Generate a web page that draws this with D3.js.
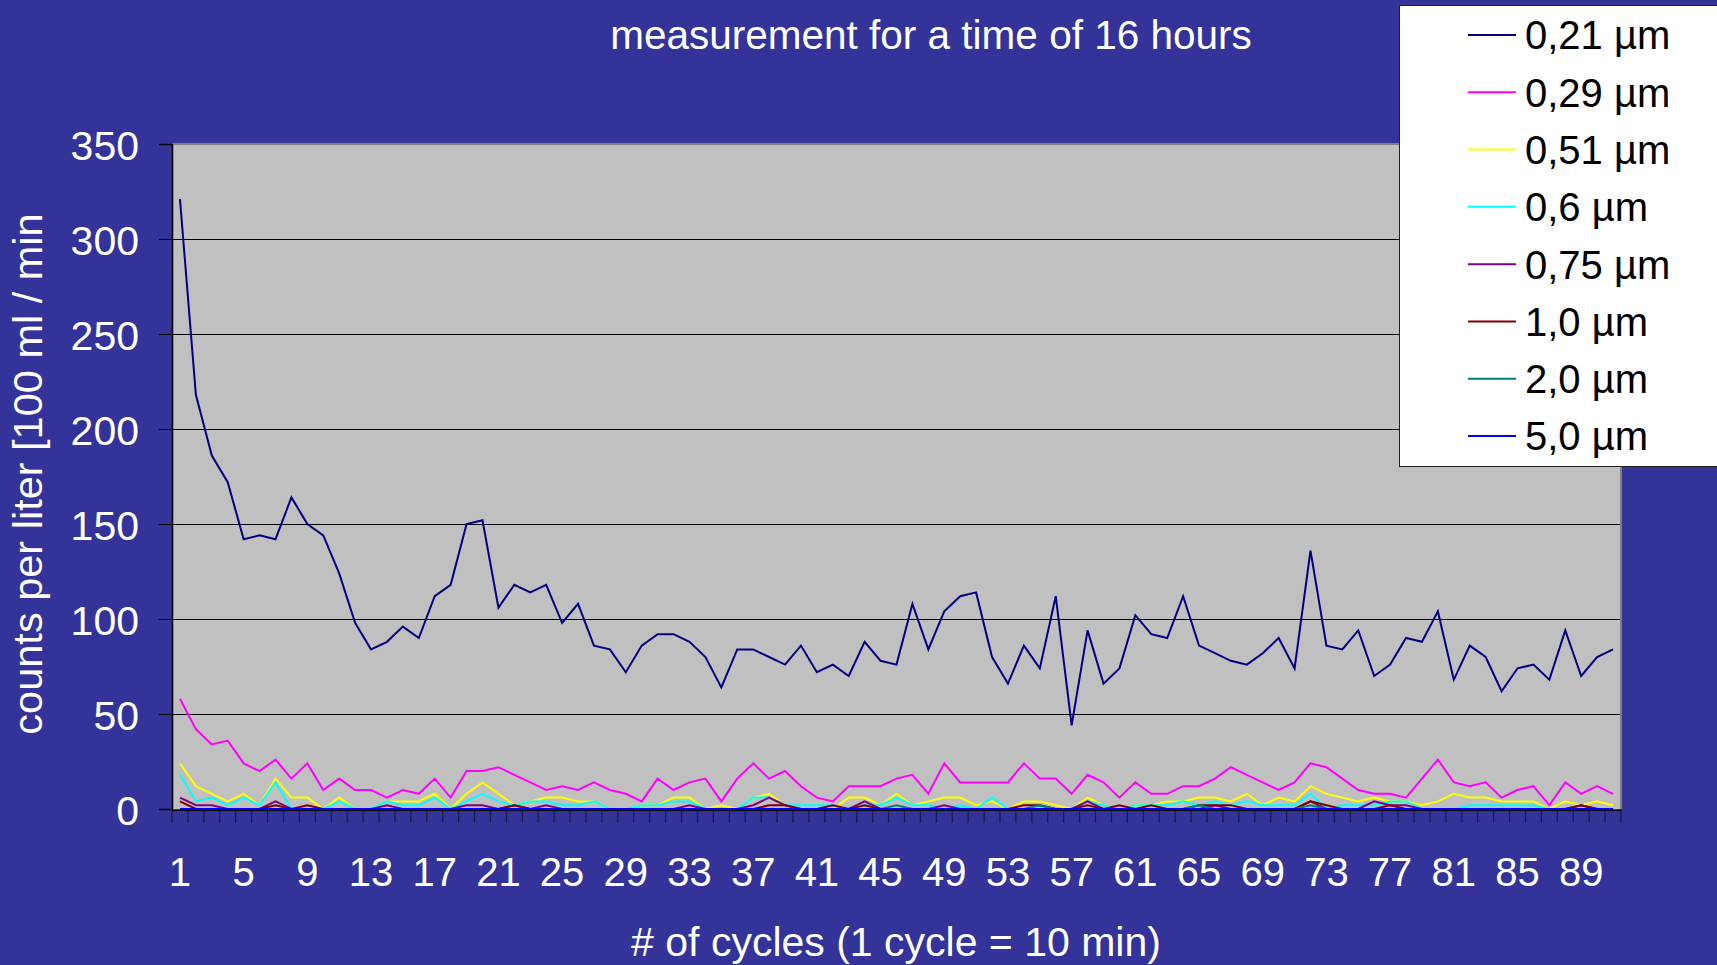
<!DOCTYPE html>
<html>
<head>
<meta charset="utf-8">
<script src="https://cdn.jsdelivr.net/npm/d3@7"></script>
<style>
  html, body { margin: 0; padding: 0; background: #333399; overflow: hidden; }
  text { font-family: "Liberation Sans", Arial, sans-serif; }
</style>
</head>
<body>
<script>
// particle sizes (legend order = drawing order)
const sizes = ["0,21 µm", "0,29 µm", "0,51 µm", "0,6 µm", "0,75 µm", "1,0 µm", "2,0 µm", "5,0 µm"];

// cycle numbers 1..91
const cycles = d3.range(1, 92);

// x labels shown (every 4th cycle)
const xTickLabels = [1, 5, 9, 13, 17, 21, 25, 29, 33, 37, 41, 45, 49, 53, 57, 61, 65, 69, 73, 77, 81, 85, 89];
const yTicks = [0, 50, 100, 150, 200, 250, 300, 350];

const s021 = [321, 218, 186, 172, 142, 144, 142, 164, 150, 144,
  124, 98, 84, 88, 96, 90, 112, 118, 150, 152,
  106, 118, 114, 118, 98, 108, 86, 84, 72, 86,
  92, 92, 88, 80, 64, 84, 84, 80, 76, 86,
  72, 76, 70, 88, 78, 76, 108, 84, 104, 112,
  114, 80, 66, 86, 74, 112, 44, 94, 66, 74,
  102, 92, 90, 112, 86, 82, 78, 76, 82, 90,
  74, 136, 86, 84, 94, 70, 76, 90, 88, 104,
  68, 86, 80, 62, 74, 76, 68, 94, 70, 80, 84];

const s029 = [58, 42, 34, 36, 24, 20, 26, 16, 24, 10,
  16, 10, 10, 6, 10, 8, 16, 6, 20, 20,
  22, 18, 14, 10, 12, 10, 14, 10, 8, 4,
  16, 10, 14, 16, 4, 16, 24, 16, 20, 12,
  6, 4, 12, 12, 12, 16, 18, 8, 24, 14,
  14, 14, 14, 24, 16, 16, 8, 18, 14, 6,
  14, 8, 8, 12, 12, 16, 22, 18, 14, 10,
  14, 24, 22, 16, 10, 8, 8, 6, 16, 26,
  14, 12, 14, 6, 10, 12, 2, 14, 8, 12, 8];

const s051 = [24, 12, 8, 4, 8, 2, 16, 6, 6, 0,
  6, 0, 0, 4, 4, 4, 8, 0, 8, 14,
  8, 2, 4, 6, 6, 4, 4, 0, 0, 2,
  2, 6, 6, 0, 2, 0, 6, 8, 2, 0,
  0, 0, 6, 6, 2, 8, 2, 4, 6, 6,
  2, 4, 0, 4, 4, 2, 0, 6, 2, 0,
  2, 2, 4, 4, 6, 6, 4, 8, 2, 6,
  4, 12, 8, 6, 4, 6, 4, 4, 2, 4,
  8, 6, 6, 4, 4, 4, 0, 4, 2, 4, 2];

const s06 = [18, 4, 6, 2, 6, 2, 14, 0, 0, 0,
  4, 0, 0, 4, 2, 2, 6, 0, 4, 8,
  4, 2, 4, 4, 2, 2, 4, 0, 0, 2,
  2, 4, 4, 0, 0, 0, 6, 6, 2, 2,
  2, 2, 0, 2, 2, 6, 2, 2, 0, 2,
  0, 6, 0, 0, 2, 0, 0, 4, 2, 0,
  2, 2, 2, 4, 2, 4, 2, 4, 2, 2,
  2, 8, 0, 2, 2, 2, 4, 4, 0, 0,
  0, 2, 2, 2, 2, 2, 0, 0, 2, 0, 0];

const s075 = [6, 2, 2, 0, 0, 0, 4, 0, 0, 0,
  0, 0, 0, 2, 0, 0, 0, 0, 2, 2,
  0, 2, 0, 2, 0, 0, 0, 0, 0, 0,
  0, 0, 2, 0, 0, 0, 2, 6, 2, 0,
  0, 0, 0, 4, 0, 0, 0, 0, 2, 0,
  0, 0, 0, 0, 0, 0, 0, 4, 0, 0,
  0, 0, 0, 0, 0, 2, 0, 0, 0, 0,
  0, 4, 0, 0, 0, 4, 2, 2, 0, 0,
  0, 0, 0, 0, 0, 0, 0, 0, 2, 0, 0];

const s10 = [4, 0, 0, 0, 0, 0, 2, 0, 2, 0,
  0, 0, 0, 0, 0, 0, 0, 0, 0, 0,
  0, 2, 0, 0, 0, 0, 0, 0, 0, 0,
  0, 0, 0, 0, 0, 0, 0, 2, 2, 0,
  0, 2, 0, 2, 0, 0, 0, 0, 0, 0,
  0, 0, 0, 2, 2, 0, 0, 2, 0, 2,
  0, 2, 0, 0, 2, 2, 2, 0, 0, 0,
  0, 4, 2, 0, 0, 0, 2, 0, 0, 0,
  0, 0, 0, 0, 0, 0, 0, 0, 2, 0, 0];

const s20 = [0, 0, 0, 0, 0, 0, 0, 0, 0, 0,
  0, 0, 0, 0, 0, 0, 0, 0, 0, 0,
  0, 0, 0, 0, 0, 0, 0, 0, 0, 0,
  0, 0, 0, 0, 0, 0, 0, 0, 0, 0,
  0, 0, 0, 0, 0, 2, 0, 0, 0, 0,
  0, 0, 0, 0, 2, 0, 0, 0, 0, 0,
  0, 0, 0, 0, 2, 0, 0, 0, 0, 0,
  0, 2, 0, 0, 0, 0, 0, 0, 0, 0,
  0, 0, 0, 0, 0, 0, 0, 0, 0, 0, 0];

const s50 = cycles.map(() => 0);

const seriesValues = [s021, s029, s051, s06, s075, s10, s20, s50];

const width = 1717;
const height = 965;
const plot = { left: 172, right: 1621, top: 144, bottom: 809 };

const color = d3.scaleOrdinal()
  .domain(sizes)
  .range(["#000080", "#ff00ff", "#ffff00", "#00ffff", "#800080", "#800000", "#008080", "#0000ff"]);

const svg = d3.select('body')
  .append('svg')
  .attr('width', width)
  .attr('height', height);

svg.append('rect')
  .attr('width', width)
  .attr('height', height)
  .attr('fill', '#333399');

// scales
const x = d3.scaleBand()
  .domain(cycles)
  .range([plot.left, plot.right]);

const y = d3.scaleLinear()
  .domain([0, 350])
  .range([plot.bottom, plot.top]);

// plot area
svg.append('rect')
  .attr('x', plot.left)
  .attr('y', plot.top)
  .attr('width', plot.right - plot.left)
  .attr('height', plot.bottom - plot.top)
  .attr('fill', '#c0c0c0');

// gridlines
svg.append('g')
  .selectAll('line')
  .data(yTicks.filter(d => d > 0 && d < 350))
  .enter().append('line')
  .attr('x1', plot.left)
  .attr('x2', plot.right)
  .attr('y1', d => Math.round(y(d)) + 0.5)
  .attr('y2', d => Math.round(y(d)) + 0.5)
  .attr('stroke', '#000')
  .attr('stroke-width', 1);

// plot border (top + right)
svg.append('path')
  .attr('d', `M${plot.left},${plot.top} H${plot.right} V${plot.bottom}`)
  .attr('fill', 'none')
  .attr('stroke', '#808080')
  .attr('stroke-width', 2);

// y axis
const yAxis = svg.append('g')
  .attr('transform', `translate(${plot.left},0)`)
  .call(d3.axisLeft(y).tickValues(yTicks).tickSize(13).tickPadding(20));
yAxis.select('.domain').attr('stroke', '#000').attr('stroke-width', 1.5);
yAxis.selectAll('.tick line').attr('stroke', '#000');
yAxis.selectAll('.tick text')
  .attr('fill', '#fff')
  .attr('dy', '0.38em')
  .style('font-size', '41px')
  .style('font-family', '"Liberation Sans", Arial, sans-serif');

// x axis: ticks between categories, labels every 4th cycle
const boundaries = d3.range(0, cycles.length + 1).map(i => plot.left + i * x.step());
const xAxis = svg.append('g');
xAxis.selectAll('line.tk')
  .data(boundaries)
  .enter().append('line')
  .attr('class', 'tk')
  .attr('x1', d => d)
  .attr('x2', d => d)
  .attr('y1', plot.bottom)
  .attr('y2', plot.bottom + 14)
  .attr('stroke', '#1a1a40')
  .attr('stroke-width', 1.2);

xAxis.selectAll('text')
  .data(xTickLabels)
  .enter().append('text')
  .attr('x', d => x(d) + x.bandwidth() / 2)
  .attr('y', 886)
  .attr('text-anchor', 'middle')
  .attr('fill', '#fff')
  .style('font-size', '40px')
  .text(d => d);

// series lines
const line = d3.line()
  .x((d, i) => x(cycles[i]) + x.bandwidth() / 2)
  .y(d => y(d));

svg.append('g')
  .selectAll('path')
  .data(seriesValues)
  .enter().append('path')
  .attr('d', d => line(d))
  .attr('fill', 'none')
  .attr('stroke', (d, i) => color(sizes[i]))
  .attr('stroke-width', 2)
  .attr('stroke-linejoin', 'miter');

// x axis line on top of plot bottom
svg.append('line')
  .attr('x1', plot.left)
  .attr('x2', plot.right)
  .attr('y1', plot.bottom + 1.5)
  .attr('y2', plot.bottom + 1.5)
  .attr('stroke', '#000')
  .attr('stroke-width', 1);

// titles
svg.append('text')
  .attr('x', 931)
  .attr('y', 49)
  .attr('text-anchor', 'middle')
  .attr('fill', '#fff')
  .style('font-size', '40.5px')
  .text('measurement for a time of 16 hours');

svg.append('text')
  .attr('x', 896)
  .attr('y', 956)
  .attr('text-anchor', 'middle')
  .attr('fill', '#fff')
  .style('font-size', '41px')
  .text('# of cycles (1 cycle = 10 min)');

svg.append('text')
  .attr('transform', 'translate(42,474) rotate(-90)')
  .attr('text-anchor', 'middle')
  .attr('fill', '#fff')
  .style('font-size', '41.5px')
  .text('counts per liter [100 ml / min');

// legend
const legend = svg.append('g');
legend.append('rect')
  .attr('x', 1399.5)
  .attr('y', 5.5)
  .attr('width', 400)
  .attr('height', 461)
  .attr('fill', '#fff')
  .attr('stroke', '#222')
  .attr('stroke-width', 1);

const rowY = d3.scalePoint()
  .domain(sizes)
  .range([35, 436]);

const rows = legend.selectAll('g.row')
  .data(sizes)
  .enter().append('g')
  .attr('class', 'row')
  .attr('transform', d => `translate(0,${rowY(d)})`);

rows.append('line')
  .attr('x1', 1468)
  .attr('x2', 1516)
  .attr('stroke', d => color(d))
  .attr('stroke-width', 2);

rows.append('text')
  .attr('x', 1525)
  .attr('dy', '0.36em')
  .attr('fill', '#000')
  .style('font-size', '40px')
  .text(d => d);
</script>
</body>
</html>
